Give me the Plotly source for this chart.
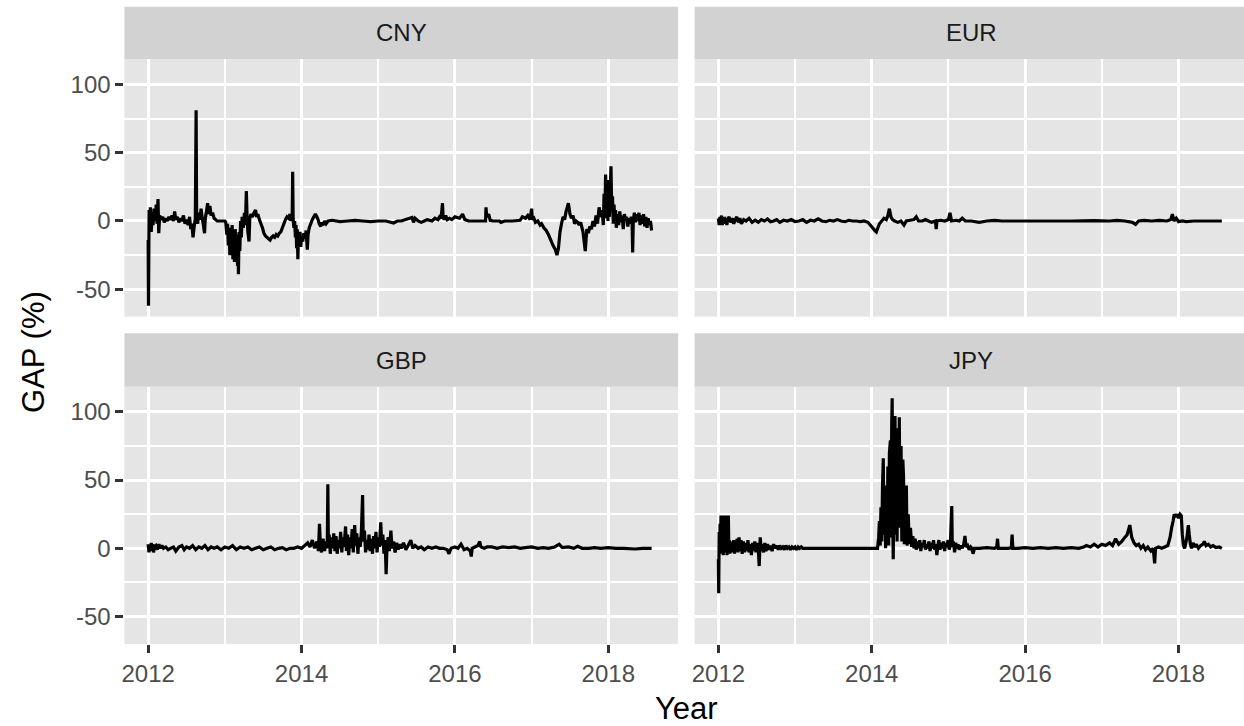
import plotly.graph_objects as go

# ---------------------------------------------------------------
# Daily GAP (%) series per currency, time as decimal year
# ---------------------------------------------------------------
cny_year = [
    2012.000, 2012.004, 2012.012, 2012.020, 2012.028, 2012.040, 2012.052, 2012.064, 2012.076, 2012.090,
    2012.105, 2012.115, 2012.128, 2012.138, 2012.150, 2012.170, 2012.190, 2012.210, 2012.230, 2012.250,
    2012.270, 2012.290, 2012.310, 2012.330, 2012.345, 2012.360, 2012.380, 2012.400, 2012.420, 2012.440,
    2012.460, 2012.480, 2012.500, 2012.520, 2012.540, 2012.555, 2012.570, 2012.585, 2012.600, 2012.615,
    2012.625, 2012.632, 2012.645, 2012.660, 2012.675, 2012.690, 2012.705, 2012.720, 2012.735, 2012.745,
    2012.760, 2012.775, 2012.790, 2012.805, 2012.820, 2012.840, 2012.860, 2012.880, 2012.900, 2012.950,
    2013.000, 2013.012, 2013.025, 2013.035, 2013.045, 2013.055, 2013.065, 2013.075, 2013.085, 2013.095,
    2013.105, 2013.115, 2013.125, 2013.135, 2013.145, 2013.155, 2013.165, 2013.172, 2013.177, 2013.185,
    2013.195, 2013.205, 2013.215, 2013.225, 2013.240, 2013.255, 2013.268, 2013.280, 2013.290, 2013.300,
    2013.315, 2013.325, 2013.340, 2013.360, 2013.380, 2013.400, 2013.415, 2013.430, 2013.450, 2013.470,
    2013.490, 2013.510, 2013.530, 2013.550, 2013.570, 2013.590, 2013.610, 2013.630, 2013.650, 2013.670,
    2013.690, 2013.710, 2013.730, 2013.750, 2013.770, 2013.790, 2013.810, 2013.830, 2013.850, 2013.865,
    2013.878, 2013.884, 2013.890, 2013.900, 2013.910, 2013.920, 2013.928, 2013.936, 2013.944, 2013.952,
    2013.960, 2013.970, 2013.980, 2013.990, 2014.000, 2014.015, 2014.030, 2014.045, 2014.060, 2014.075,
    2014.085, 2014.100, 2014.120, 2014.140, 2014.160, 2014.180, 2014.200, 2014.215, 2014.230, 2014.250,
    2014.265, 2014.280, 2014.300, 2014.320, 2014.345, 2014.400, 2014.500, 2014.600, 2014.700, 2014.800,
    2014.900, 2015.000, 2015.100, 2015.200, 2015.250, 2015.300, 2015.440, 2015.460, 2015.480, 2015.520,
    2015.560, 2015.600, 2015.640, 2015.700, 2015.740, 2015.780, 2015.800, 2015.820, 2015.838, 2015.846,
    2015.860, 2015.880, 2015.900, 2015.930, 2015.960, 2016.000, 2016.060, 2016.100, 2016.130, 2016.180,
    2016.250, 2016.320, 2016.400, 2016.405, 2016.415, 2016.440, 2016.460, 2016.500, 2016.580, 2016.600,
    2016.650, 2016.750, 2016.850, 2016.880, 2016.920, 2016.950, 2016.980, 2017.000, 2017.010, 2017.030,
    2017.050, 2017.080, 2017.110, 2017.130, 2017.160, 2017.190, 2017.220, 2017.250, 2017.280, 2017.310,
    2017.330, 2017.350, 2017.370, 2017.390, 2017.410, 2017.430, 2017.450, 2017.480, 2017.500, 2017.520,
    2017.540, 2017.560, 2017.580, 2017.600, 2017.620, 2017.640, 2017.670, 2017.700, 2017.720, 2017.740,
    2017.760, 2017.780, 2017.800, 2017.820, 2017.840, 2017.860, 2017.880, 2017.900, 2017.920, 2017.935,
    2017.945, 2017.955, 2017.965, 2017.975, 2017.985, 2017.995, 2018.005, 2018.015, 2018.025, 2018.035,
    2018.045, 2018.055, 2018.065, 2018.075, 2018.085, 2018.095, 2018.105, 2018.120, 2018.135, 2018.150,
    2018.165, 2018.180, 2018.195, 2018.210, 2018.225, 2018.240, 2018.255, 2018.270, 2018.285, 2018.300,
    2018.310, 2018.318, 2018.326, 2018.340, 2018.355, 2018.370, 2018.385, 2018.400, 2018.415, 2018.430,
    2018.445, 2018.460, 2018.475, 2018.490, 2018.505, 2018.520, 2018.535, 2018.550, 2018.565,
]
cny_gap = [
    -14, -62, 8, -6, 10, -8, 5, -3, 9, 0,
    12, -2, 16, -9, 4, 1, 3, -1, 2, 0,
    3, 1, 4, 0, 7, 1, 3, -1, 2, 0,
    4, -2, 1, -3, 3, -6, -2, -12, -4, 2,
    81, 4, -2, 6, 1, 9, 2, -3, -9, 2,
    7, 13, 5, 11, 4, 6, 2, 1, 0, 0,
    0, -1, -10, -2, -18, -5, -25, -8, -20, -3,
    -28, -12, -30, -6, -24, -10, -33, -15, -39, -8,
    -22, 0, -12, 3, -5, 6, -3, 22, 2, -8,
    -15, 2, 5, 3, 6, 8, 3, 5, 1, -2,
    -5, -9, -11, -12, -13, -14, -12, -11, -12, -10,
    -11, -9, -8, -5, -2, 1, 3, 2, 5, 0,
    4, 36, 2, -5, 0, -12, -3, -20, -6, -28,
    -10, -16, -8, -19, -11, -15, -9, -13, -7, -21,
    -10, -5, -2, 1, 3, 5, 3, 1, -2, -4,
    -1, -3, 0, -2, 0, 0.5, -0.5, 0, 0.5, 0,
    -0.5, 0, 0, -1.5, 0, 0, 2.5, -1, 2, 0,
    -1, 0, 1, 0, 2, 1, 3, 2, 13, 3,
    1, 4, 1, 2, 1, 3, 2, 5, 1, 0,
    0, 0, 0, 10, 3, 5, 0.5, 0, 0, -1,
    0, 0, 0.5, 3, 2, 4, 1, 9, 1, 2,
    -1, 0, -3, -2, -5, -7, -10, -14, -18, -21,
    -25, -20, -8, -2, 3, 1, 7, 13, 5, 2,
    4, -2, 0, -1, -3, -1, -8, -22, -6, -9,
    -4, -6, 0, -4, 4, -2, 10, 3, 8, -3,
    20, 2, 34, 5, 25, 0, 30, 3, 20, 40,
    8, 18, -2, 12, 0, 8, -5, 5, -3, 7,
    -1, 4, -6, 5, 1, 3, -4, 2, -2, 3,
    0, -23, 0, 6, -1, 5, 0, 6, -3, 4,
    -2, 5, -4, 3, -5, 2, -3, 0, -7,
]

eur_year = [
    2012.00, 2012.01, 2012.02, 2012.03, 2012.04, 2012.05, 2012.06, 2012.07, 2012.08, 2012.09,
    2012.10, 2012.11, 2012.12, 2012.14, 2012.16, 2012.18, 2012.20, 2012.22, 2012.24, 2012.26,
    2012.28, 2012.30, 2012.33, 2012.36, 2012.40, 2012.44, 2012.48, 2012.52, 2012.56, 2012.60,
    2012.64, 2012.68, 2012.72, 2012.76, 2012.80, 2012.85, 2012.90, 2012.95, 2013.00, 2013.05,
    2013.10, 2013.15, 2013.20, 2013.25, 2013.30, 2013.35, 2013.40, 2013.45, 2013.50, 2013.55,
    2013.60, 2013.65, 2013.70, 2013.75, 2013.80, 2013.85, 2013.90, 2013.95, 2013.98, 2014.01,
    2014.04, 2014.06, 2014.08, 2014.10, 2014.13, 2014.16, 2014.19, 2014.21, 2014.23, 2014.25,
    2014.27, 2014.30, 2014.34, 2014.38, 2014.42, 2014.45, 2014.50, 2014.55, 2014.58, 2014.61,
    2014.66, 2014.70, 2014.74, 2014.78, 2014.83, 2014.84, 2014.85, 2014.90, 2014.95, 2015.00,
    2015.02, 2015.04, 2015.10, 2015.14, 2015.18, 2015.22, 2015.30, 2015.40, 2015.50, 2015.60,
    2015.70, 2015.80, 2016.00, 2016.30, 2016.60, 2016.90, 2017.10, 2017.20, 2017.30, 2017.40,
    2017.44, 2017.48, 2017.55, 2017.65, 2017.75, 2017.85, 2017.90, 2017.92, 2017.94, 2017.97,
    2018.00, 2018.05, 2018.10, 2018.20, 2018.35, 2018.50, 2018.565,
]
eur_gap = [
    2, -3, 3, -2, 4, -3, 2, -1, 3, -2,
    2, -3, 1, 3, -1, 2, -2, 1, 3, -1,
    2, -2, 1, 0, 2, -1, 0.5, -1, 1, 0,
    1.5, -0.5, 0, 1, -1, 0.5, 0, 1, -0.5, 0,
    1, -1, 0.5, 0, 1.5, 0, -0.5, 0.5, 0, 1,
    0, -0.5, 0.5, 0, 0, -0.5, 0, -1, -3, -5,
    -7, -8, -5, -2, 0, 2, 1, 4, 9, 3,
    1, 0, -1, 0, -3, 0, 0.5, 1, 3, 0,
    0, 1, 0, -1, 0, -6, 0, 0.5, 0, 1,
    6, 0, 0.5, 0, 2, 0, 0, -1, 0, 0.5,
    0, 0, 0, 0, 0, 0.3, 0, 0.5, 0, -1,
    -2.5, 0, 0.5, 0, 0.5, 0, 1, 5, 0, 2,
    -0.5, 0, -0.5, 0, 0, 0, 0,
]

gbp_year = [
    2012.00, 2012.01, 2012.02, 2012.03, 2012.04, 2012.05, 2012.06, 2012.07, 2012.08, 2012.10,
    2012.12, 2012.14, 2012.16, 2012.18, 2012.20, 2012.23, 2012.26, 2012.29, 2012.33, 2012.36,
    2012.40, 2012.44, 2012.47, 2012.50, 2012.54, 2012.58, 2012.62, 2012.66, 2012.70, 2012.74,
    2012.78, 2012.82, 2012.86, 2012.90, 2012.95, 2013.00, 2013.05, 2013.10, 2013.15, 2013.20,
    2013.25, 2013.30, 2013.35, 2013.40, 2013.45, 2013.50, 2013.55, 2013.60, 2013.65, 2013.70,
    2013.75, 2013.80, 2013.85, 2013.90, 2013.95, 2014.00, 2014.04, 2014.08, 2014.11, 2014.14,
    2014.17, 2014.20, 2014.22, 2014.234, 2014.245, 2014.26, 2014.28, 2014.30, 2014.32, 2014.335,
    2014.343, 2014.35, 2014.36, 2014.375, 2014.39, 2014.405, 2014.42, 2014.435, 2014.45, 2014.465,
    2014.48, 2014.495, 2014.51, 2014.525, 2014.54, 2014.555, 2014.574, 2014.585, 2014.60, 2014.615,
    2014.63, 2014.645, 2014.66, 2014.675, 2014.693, 2014.705, 2014.72, 2014.735, 2014.75, 2014.765,
    2014.78, 2014.796, 2014.805, 2014.82, 2014.835, 2014.85, 2014.865, 2014.88, 2014.895, 2014.91,
    2014.925, 2014.94, 2014.955, 2014.97, 2014.985, 2015.00, 2015.015, 2015.033, 2015.045, 2015.06,
    2015.075, 2015.09, 2015.103, 2015.115, 2015.13, 2015.145, 2015.165, 2015.18, 2015.20, 2015.22,
    2015.24, 2015.26, 2015.28, 2015.30, 2015.33, 2015.36, 2015.39, 2015.425, 2015.45, 2015.48,
    2015.52, 2015.56, 2015.60, 2015.65, 2015.70, 2015.75, 2015.80, 2015.85, 2015.90, 2015.92,
    2015.95, 2016.00, 2016.04, 2016.08, 2016.12, 2016.16, 2016.20, 2016.213, 2016.225, 2016.26,
    2016.30, 2016.322, 2016.34, 2016.38, 2016.42, 2016.48, 2016.55, 2016.62, 2016.70, 2016.78,
    2016.85, 2016.92, 2017.00, 2017.08, 2017.15, 2017.22, 2017.30, 2017.36, 2017.40, 2017.48,
    2017.55, 2017.60, 2017.66, 2017.75, 2017.82, 2017.90, 2018.00, 2018.10, 2018.20, 2018.35,
    2018.45, 2018.565,
]
gbp_gap = [
    3, -3, 2, -2, 4, -1, 3, -3, 1, 2,
    -1, 3, 0, 2, 0, 1, -1, 0, 1, -2,
    1, 2, -1, 1, 0, 2, -1, 1, 0, 2,
    -1, 1, 0, 1, -1, 1, 0, 2, -1, 1,
    0, 1, -1, 0, 1, -1, 0, 1, -1, 0,
    0.5, -1, 0, 0, 1, 0, 2, 4, 1, 6,
    0, 5, -2, 18, 3, -3, 7, -2, 5, 0,
    47, 2, 10, -4, 8, 0, 11, -2, 9, -4,
    6, 0, 12, -3, 8, 1, 16, -2, 10, -5,
    8, 0, 14, -3, 17, 2, 11, -4, 8, 1,
    12, 39, 5, 13, -3, 6, -1, 10, -2, 7,
    -4, 9, 0, 12, -3, 8, 1, 19, 2, 10,
    -4, 6, -19, 3, 8, -2, 13, 0, 5, -3,
    4, -1, 3, 0, 4, -1, 2, 6, 0, 2,
    0, 1, -1, 1, 0, 1, 0, 0, -1, -4,
    0, 1, 0, 3, -1, 0, -2, -6, 0, 1,
    2, 5, 1, 0, 1, 1, 0, 1, 0.5, 1,
    0, 0.5, 1, 0, 0.5, 0, 1, 3, 0.5, 1,
    0, 1.5, 0, 0, 0.5, 0, 0.5, 0, 0, -0.5,
    0, 0,
]

jpy_year = [
    2012.000, 2012.004, 2012.010, 2012.016, 2012.022, 2012.028, 2012.034, 2012.040, 2012.046, 2012.052,
    2012.058, 2012.064, 2012.070, 2012.076, 2012.082, 2012.088, 2012.094, 2012.100, 2012.106, 2012.112,
    2012.118, 2012.124, 2012.130, 2012.136, 2012.142, 2012.150, 2012.160, 2012.170, 2012.180, 2012.190,
    2012.200, 2012.210, 2012.220, 2012.230, 2012.245, 2012.255, 2012.270, 2012.280, 2012.295, 2012.310,
    2012.325, 2012.340, 2012.355, 2012.370, 2012.385, 2012.400, 2012.415, 2012.430, 2012.445, 2012.460,
    2012.475, 2012.490, 2012.505, 2012.520, 2012.532, 2012.545, 2012.560, 2012.575, 2012.590, 2012.605,
    2012.620, 2012.640, 2012.660, 2012.680, 2012.700, 2012.720, 2012.740, 2012.760, 2012.780, 2012.800,
    2012.820, 2012.840, 2012.860, 2012.880, 2012.900, 2012.920, 2012.940, 2012.960, 2012.980, 2013.000,
    2013.020, 2013.040, 2013.060, 2013.080, 2013.100, 2014.075, 2014.090, 2014.100, 2014.110, 2014.120,
    2014.130, 2014.140, 2014.150, 2014.160, 2014.170, 2014.180, 2014.190, 2014.200, 2014.210, 2014.220,
    2014.230, 2014.243, 2014.250, 2014.260, 2014.266, 2014.273, 2014.280, 2014.290, 2014.303, 2014.312,
    2014.322, 2014.330, 2014.340, 2014.350, 2014.359, 2014.368, 2014.382, 2014.392, 2014.405, 2014.414,
    2014.425, 2014.440, 2014.451, 2014.460, 2014.475, 2014.490, 2014.505, 2014.520, 2014.535, 2014.550,
    2014.565, 2014.580, 2014.595, 2014.610, 2014.625, 2014.640, 2014.655, 2014.670, 2014.685, 2014.700,
    2014.715, 2014.730, 2014.745, 2014.760, 2014.775, 2014.790, 2014.805, 2014.820, 2014.835, 2014.849,
    2014.862, 2014.875, 2014.890, 2014.905, 2014.920, 2014.935, 2014.950, 2014.965, 2014.980, 2014.995,
    2015.010, 2015.025, 2015.043, 2015.050, 2015.065, 2015.080, 2015.095, 2015.110, 2015.125, 2015.140,
    2015.160, 2015.180, 2015.200, 2015.215, 2015.230, 2015.250, 2015.270, 2015.290, 2015.305, 2015.321,
    2015.340, 2015.400, 2015.500, 2015.600, 2015.630, 2015.640, 2015.650, 2015.700, 2015.780, 2015.820,
    2015.830, 2015.840, 2015.900, 2016.000, 2016.100, 2016.200, 2016.300, 2016.400, 2016.500, 2016.600,
    2016.700, 2016.764, 2016.800, 2016.850, 2016.900, 2016.950, 2017.000, 2017.050, 2017.100, 2017.140,
    2017.180, 2017.220, 2017.260, 2017.300, 2017.330, 2017.365, 2017.390, 2017.420, 2017.450, 2017.480,
    2017.510, 2017.540, 2017.570, 2017.600, 2017.640, 2017.670, 2017.689, 2017.700, 2017.740, 2017.780,
    2017.820, 2017.860, 2017.890, 2017.910, 2017.930, 2017.944, 2017.960, 2017.980, 2018.000, 2018.020,
    2018.036, 2018.050, 2018.065, 2018.080, 2018.095, 2018.110, 2018.128, 2018.140, 2018.155, 2018.170,
    2018.190, 2018.210, 2018.230, 2018.260, 2018.290, 2018.320, 2018.337, 2018.360, 2018.390, 2018.420,
    2018.450, 2018.490, 2018.530, 2018.565,
]
jpy_gap = [
    -8, -33, 12, -2, 18, 5, 24, -4, 24, 2,
    24, -5, 22, 0, 24, -3, 24, 3, 24, -5,
    23, 1, 24, -2, 6, -4, 5, -3, 4, -2,
    6, -4, 5, -1, 7, -3, 8, -2, 6, -4,
    5, -3, 4, -2, 6, -3, 3, -5, 4, -2,
    5, -3, 4, -1, -13, 8, -2, 3, -3, 4,
    -2, 3, -1, 2, -2, 3, 0, 2, -1, 2,
    0, 1, -1, 2, 0, 1, -1, 1, 0, 1,
    -1, 1, 0, 1, 0, 0, 8, 20, 2, 30,
    5, 45, 66, 10, 46, 0, 40, 5, 60, 2,
    70, 79, 8, 90, 110, 20, -8, 60, 97, 10,
    83, 5, 88, 15, 96, 20, 75, 5, 65, 53,
    3, 40, 46, 2, 25, 3, 15, 1, 9, 0,
    7, -1, 5, 0, 6, -2, 4, 1, 6, -1,
    3, 0, 5, -2, 4, 0, 6, -1, 3, -5,
    2, 6, -1, 4, 0, 5, -2, 4, 1, 6,
    -1, 3, 31, 1, 5, -3, 4, 0, 3, -1,
    2, 0, 3, 9, 1, 2, -1, 1, 0, -4,
    0, 0, 0.5, 0, 1, 7, 0, 0, 0, 0.5,
    10, 0, 0, 0.5, 0, 0.5, 0, 0.5, 0, 0.5,
    0, 1, 2, 1, 3, 1, 3, 2, 4, 2,
    7, 3, 5, 8, 10, 17, 8, 4, 2, 3,
    0, 2, -1, 1, -2, 0, -11, 0, 1, 0,
    1, 2, 8, 15, 20, 25, 23, 25, 22, 25,
    24, 10, 2, 0, 4, 8, 17, 10, 3, 0,
    4, 1, 3, 0, 2, 3, 5, 2, 3, 1,
    2, 0.5, 1, 0,
]

currencies = ["CNY", "EUR", "GBP", "JPY"]
series = {
    "CNY": (cny_year, cny_gap),
    "EUR": (eur_year, eur_gap),
    "GBP": (gbp_year, gbp_gap),
    "JPY": (jpy_year, jpy_gap),
}
for name, (xs, ys) in series.items():
    assert len(xs) == len(ys), name

year_ticks = [2012, 2014, 2016, 2018]
year_minor = [2013, 2015, 2017]
gap_ticks = [-50, 0, 50, 100]
gap_minor = [-25, 25, 75]

# ---------------------------------------------------------------
# Page geometry (pixels) for a 2 x 2 facet grid
# ---------------------------------------------------------------
W, H = 1244, 726
col_px = [(121.7, 676.7), (693.3, 1244.0)]
row_px = [(59.3, 316.7), (386.7, 644.0)]
strip_px = [(6.7, 59.3), (333.3, 386.7)]
panel_w_full = 555.0                      # every panel shares this width
px_per_year = 76.87
x_start = 2011.690
y_range = [-70.1, 118.4]


def fx(px):
    return px / W


def fy(px):
    return 1 - px / H


PANEL_BG = "#E5E5E5"
STRIP_BG = "#D2D2D2"
TICK_FONT = dict(family="Liberation Sans, Arial, sans-serif", size=24, color="#4D4D4D")

fig = go.Figure()
layout = dict(
    width=W, height=H,
    margin=dict(l=0, r=0, t=0, b=0),
    paper_bgcolor="white",
    plot_bgcolor=PANEL_BG,
    showlegend=False,
    shapes=[],
    annotations=[],
)

for i, cur in enumerate(currencies):
    r, c = divmod(i, 2)
    n = "" if i == 0 else str(i + 1)
    xs, ys = series[cur]
    fig.add_trace(go.Scatter(
        x=xs, y=ys, mode="lines",
        line=dict(color="black", width=3.2, simplify=False),
        xaxis="x" + n, yaxis="y" + n, hoverinfo="skip",
    ))

    x0, x1 = col_px[c]
    y0, y1 = row_px[r]
    x_end = x_start + (x1 - x0) / px_per_year

    layout["xaxis" + n] = dict(
        domain=[fx(x0), fx(x1)], anchor="y" + n,
        range=[x_start, x_end],
        tickmode="array", tickvals=year_ticks,
        ticktext=[str(v) for v in year_ticks],
        showticklabels=(r == 1), ticks="outside" if r == 1 else "",
        ticklen=8, tickwidth=2.5, tickcolor="#333333",
        tickfont=TICK_FONT,
        showgrid=True, gridcolor="white", gridwidth=3,
        minor=dict(tickvals=year_minor, showgrid=True, gridcolor="white",
                   gridwidth=1.5, ticks=""),
        zeroline=False, showline=False, fixedrange=True,
    )
    layout["yaxis" + n] = dict(
        domain=[fy(y1), fy(y0)], anchor="x" + n,
        range=y_range,
        tickmode="array", tickvals=gap_ticks,
        ticktext=[str(v) for v in gap_ticks],
        showticklabels=(c == 0), ticks="outside" if c == 0 else "",
        ticklen=8, tickwidth=2.5, tickcolor="#333333",
        tickfont=TICK_FONT,
        showgrid=True, gridcolor="white", gridwidth=3,
        minor=dict(tickvals=gap_minor, showgrid=True, gridcolor="white",
                   gridwidth=1.5, ticks=""),
        zeroline=False, showline=False, fixedrange=True,
    )

    # facet strip
    s0, s1 = strip_px[r]
    layout["shapes"].append(dict(
        type="rect", xref="paper", yref="paper",
        x0=fx(x0), x1=fx(x1), y0=fy(s1), y1=fy(s0),
        fillcolor=STRIP_BG, line=dict(width=0), layer="below",
    ))
    layout["annotations"].append(dict(
        text=cur, xref="paper", yref="paper",
        x=fx(x0 + panel_w_full / 2), y=fy((s0 + s1) / 2),
        xanchor="center", yanchor="middle", showarrow=False,
        font=dict(family="Liberation Sans, Arial, sans-serif", size=24, color="#1A1A1A"),
    ))

# axis titles
layout["annotations"].append(dict(
    text="Year", xref="paper", yref="paper",
    x=fx(685), y=fy(708), xanchor="center", yanchor="middle", showarrow=False,
    font=dict(family="Liberation Sans, Arial, sans-serif", size=31, color="black"),
))
layout["annotations"].append(dict(
    text="GAP (%)", xref="paper", yref="paper", textangle=-90,
    x=fx(30), y=fy(352), xanchor="center", yanchor="middle", showarrow=False,
    font=dict(family="Liberation Sans, Arial, sans-serif", size=31, color="black"),
))

fig.update_layout(**layout)
fig.write_html("out.html")
